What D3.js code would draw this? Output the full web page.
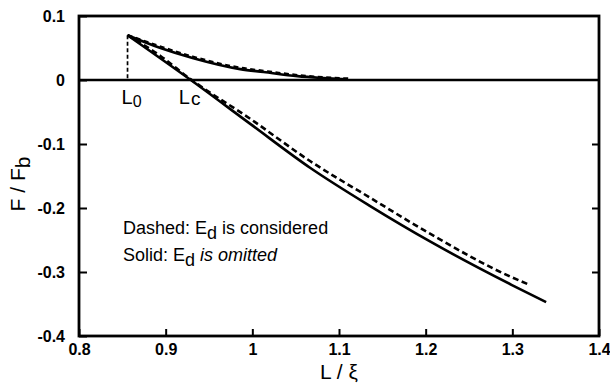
<!DOCTYPE html>
<html>
<head>
<meta charset="utf-8">
<script src="https://cdn.jsdelivr.net/npm/d3@7"></script>
<style>
  html, body { margin: 0; padding: 0; background: #fff; }
  svg { display: block; font-family: "Liberation Sans", Arial, Helvetica, sans-serif; }
</style>
</head>
<body>
<svg id="chart" width="610" height="387"></svg>
<script>
// Axis ticks
const xTicks = [0.8, 0.9, 1, 1.1, 1.2, 1.3, 1.4];
const xTickLabels = ["0.8", "0.9", "1", "1.1", "1.2", "1.3", "1.4"];
const yTicks = [0.1, 0, -0.1, -0.2, -0.3, -0.4];
const yTickLabels = ["0.1", "0", "-0.1", "-0.2", "-0.3", "-0.4"];

// Characteristic points
const L0 = 0.856, F0 = 0.070;
const Lc = 0.929;

// Solid curves (E_d omitted)
const solidUpperL = [0.856, 0.894, 0.932, 0.986, 1.013, 1.052, 1.082, 1.108];
const solidUpperF = [0.070, 0.050, 0.034, 0.017, 0.0125, 0.006, 0.003, 0.001];
const solidLowerL = [0.856, 0.929, 0.998, 1.067, 1.136, 1.206, 1.299, 1.339];
const solidLowerF = [0.070, 0.000, -0.069, -0.1375, -0.197, -0.253, -0.320, -0.347];

// Dashed curves (E_d considered)
const dashedUpperL = [0.856, 0.894, 0.932, 0.986, 1.013, 1.052, 1.082, 1.114];
const dashedUpperF = [0.070, 0.052, 0.036, 0.019, 0.014, 0.0075, 0.004, 0.002];
const dashedLowerL = [0.856, 0.894, 0.927, 0.998, 1.067, 1.136, 1.206, 1.299, 1.318];
const dashedLowerF = [0.070, 0.0375, 0.003, -0.061, -0.127, -0.184, -0.241, -0.308, -0.319];

const svg = d3.select("#chart");
const mLeft = 79, mRight = 599, mTop = 16, mBottom = 336;

const x = d3.scaleLinear().domain([0.8, 1.4]).range([mLeft, mRight]);
const y = d3.scaleLinear().domain([-0.4, 0.1]).range([mBottom, mTop]);

const zip = (a, b) => a.map((v, i) => [v, b[i]]);
const line = d3.line().x(d => x(d[0])).y(d => y(d[1])).curve(d3.curveMonotoneX);

// Bottom axis with inward ticks
const xAxis = svg.append("g")
  .attr("transform", `translate(0,${mBottom})`)
  .call(d3.axisBottom(x).tickValues(xTicks)
    .tickFormat((d, i) => xTickLabels[i])
    .tickSizeInner(-7).tickSizeOuter(0).tickPadding(8));
xAxis.select(".domain").remove();
xAxis.selectAll(".tick line").attr("stroke", "#000").attr("stroke-width", 2);
xAxis.selectAll(".tick text").attr("font-size", 16).attr("font-weight", "bold").attr("fill", "#000");

// Left axis with inward ticks
const yAxis = svg.append("g")
  .attr("transform", `translate(${mLeft},0)`)
  .call(d3.axisLeft(y).tickValues(yTicks)
    .tickFormat((d, i) => yTickLabels[i])
    .tickSizeInner(-8).tickSizeOuter(0).tickPadding(14));
yAxis.select(".domain").remove();
yAxis.selectAll(".tick line").attr("stroke", "#000").attr("stroke-width", 2);
yAxis.selectAll(".tick text").attr("font-size", 16).attr("font-weight", "bold").attr("fill", "#000");

// Right axis with inward ticks
const yAxisR = svg.append("g")
  .attr("transform", `translate(${mRight},0)`)
  .call(d3.axisRight(y).tickValues(yTicks.filter(v => v < 0 && v > -0.4))
    .tickFormat("").tickSizeInner(-7).tickSizeOuter(0));
yAxisR.select(".domain").remove();
yAxisR.selectAll(".tick line").attr("stroke", "#000").attr("stroke-width", 2);

// Frame
svg.append("rect")
  .attr("x", mLeft).attr("y", mTop)
  .attr("width", mRight - mLeft).attr("height", mBottom - mTop)
  .attr("fill", "none").attr("stroke", "#000").attr("stroke-width", 2.8);

// Zero line
svg.append("line")
  .attr("x1", mLeft).attr("x2", mRight)
  .attr("y1", y(0)).attr("y2", y(0))
  .attr("stroke", "#000").attr("stroke-width", 2.4);

// Vertical marker at L0
svg.append("line")
  .attr("x1", x(L0)).attr("x2", x(L0))
  .attr("y1", y(F0)).attr("y2", y(0))
  .attr("stroke", "#000").attr("stroke-width", 1.7)
  .attr("stroke-dasharray", "4,2.5");

// Curves
const curves = [
  { d: zip(solidUpperL, solidUpperF), dash: null },
  { d: zip(solidLowerL, solidLowerF), dash: null },
  { d: zip(dashedUpperL, dashedUpperF), dash: "5,3.5" },
  { d: zip(dashedLowerL, dashedLowerF), dash: "6,3.5" }
];
svg.append("g").selectAll("path").data(curves).join("path")
  .attr("d", c => line(c.d))
  .attr("fill", "none")
  .attr("stroke", "#000")
  .attr("stroke-width", 2.6)
  .attr("stroke-dasharray", c => c.dash);

// Point labels
const l0 = svg.append("text").attr("x", x(L0) - 6).attr("y", 104).attr("font-size", 20);
l0.append("tspan").text("L");
l0.append("tspan").attr("font-size", 16).attr("dy", 3).text("0");

const lc = svg.append("text").attr("x", x(Lc) - 12).attr("y", 104).attr("font-size", 20);
lc.append("tspan").text("L");
lc.append("tspan").attr("font-size", 19).attr("dx", 1).attr("dy", 1).text("c");

// Legend notes
const n1 = svg.append("text").attr("x", 123).attr("y", 234).attr("font-size", 18);
n1.append("tspan").text("Dashed: E");
n1.append("tspan").attr("dy", 5).text("d");
n1.append("tspan").attr("dy", -5).text(" is considered");

const n2 = svg.append("text").attr("x", 123).attr("y", 261).attr("font-size", 18);
n2.append("tspan").text("Solid: E");
n2.append("tspan").attr("dy", 5).text("d");
n2.append("tspan").attr("dy", -5).attr("font-style", "italic").text(" is omitted");

// Axis titles
svg.append("text")
  .attr("x", (mLeft + mRight) / 2).attr("y", 379)
  .attr("text-anchor", "middle").attr("font-size", 21)
  .text("L / ξ");

const yt = svg.append("text")
  .attr("transform", `translate(25,${(mTop + mBottom) / 2 + 8}) rotate(-90)`)
  .attr("text-anchor", "middle").attr("font-size", 21);
yt.append("tspan").text("F / F");
yt.append("tspan").attr("dy", 5).text("b");
</script>
</body>
</html>
